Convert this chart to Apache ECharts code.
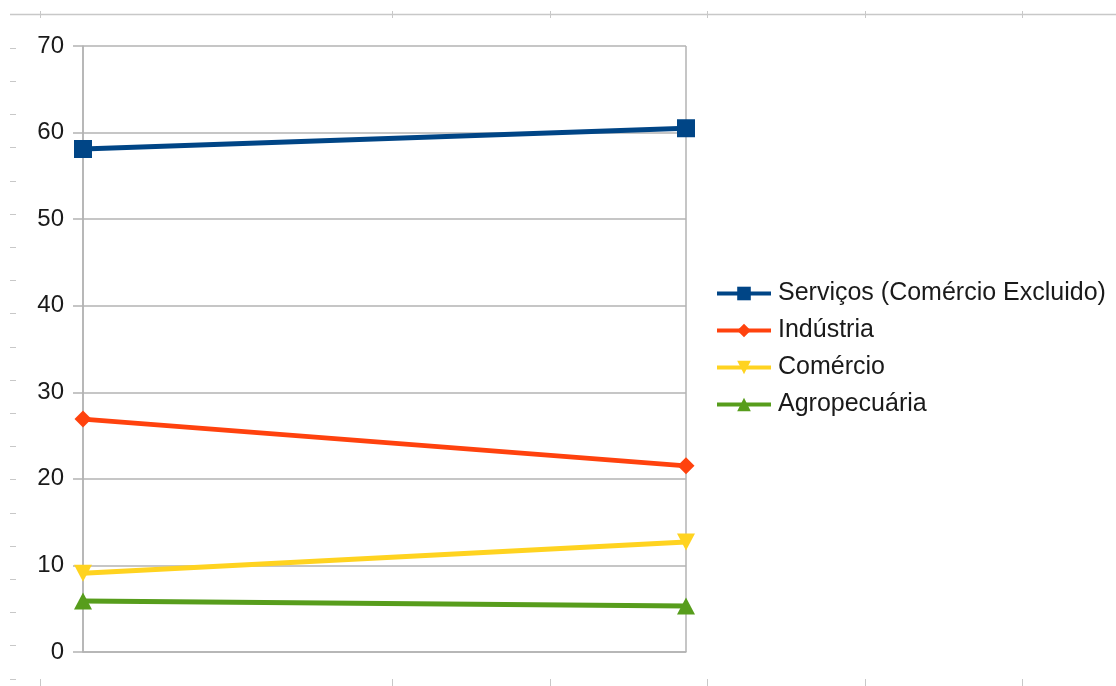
<!DOCTYPE html>
<html>
<head>
<meta charset="utf-8">
<script src="https://cdn.jsdelivr.net/npm/echarts@6/dist/echarts.min.js"></script>
<style>
html,body{margin:0;padding:0;background:#fff;}
#chart{width:1116px;height:686px;}
</style>
</head>
<body>
<div id="chart"></div>
<script>
var categories = ['1', '2'];
var servicos = [58.1, 60.5];
var industria = [26.9, 21.5];
var comercio = [9.1, 12.7];
var agropecuaria = [5.9, 5.3];
var yTicks = [0, 10, 20, 30, 40, 50, 60, 70];

// decorative ruler marks around the chart
var rulerX = [40, 392, 550, 707, 865, 1022];
var deco = [];
var rulerColor = '#c8c8c8';
deco.push({type:'line', shape:{x1:10, y1:14.5, x2:1116, y2:14.5}, style:{stroke:rulerColor, lineWidth:1.5}});
rulerX.forEach(function(x){
  deco.push({type:'line', shape:{x1:x+0.5, y1:11, x2:x+0.5, y2:18}, style:{stroke:rulerColor, lineWidth:1}});
  deco.push({type:'line', shape:{x1:x+0.5, y1:679, x2:x+0.5, y2:686}, style:{stroke:rulerColor, lineWidth:1}});
});
for (var k = 0; k < 20; k++) {
  var yy = Math.round(47.7 + 33.2 * k) + 0.5;
  deco.push({type:'line', shape:{x1:10, y1:yy, x2:16, y2:yy}, style:{stroke:rulerColor, lineWidth:1}});
}

var gridColor = '#b3b3b3';
var fontFam = 'Liberation Sans, Arial, sans-serif';
var chart = echarts.init(document.getElementById('chart'), null, {renderer:'canvas'});
chart.setOption({
  animation: false,
  backgroundColor: '#ffffff',
  textStyle: {fontFamily: fontFam},
  graphic: deco,
  grid: {left: 83, top: 46, width: 603, height: 606, containLabel: false},
  legend: {
    orient: 'vertical',
    left: 710,
    top: 276,
    itemWidth: 54,
    itemHeight: 17,
    itemGap: 12,
    lineStyle: {width: 4},
    textStyle: {fontSize: 25, color: '#1a1a1a', fontFamily: fontFam, padding: [0, 0, 0, 2]},
    data: ['Serviços (Comércio Excluido)', 'Indústria', 'Comércio', 'Agropecuária']
  },
  xAxis: {
    type: 'category',
    data: categories,
    boundaryGap: false,
    axisLine: {show: true, lineStyle: {color: gridColor, width: 1.5}},
    axisTick: {show: false},
    axisLabel: {show: false},
    splitLine: {show: true, lineStyle: {color: gridColor, width: 1.5}}
  },
  yAxis: {
    type: 'value',
    min: yTicks[0],
    max: yTicks[yTicks.length - 1],
    interval: 10,
    axisLine: {show: true, lineStyle: {color: gridColor, width: 1.5}},
    axisTick: {show: true, length: 10, lineStyle: {color: gridColor, width: 1.5}},
    axisLabel: {fontSize: 24, color: '#1a1a1a', margin: 19, fontFamily: fontFam},
    splitLine: {show: true, lineStyle: {color: gridColor, width: 1.5}}
  },
  series: [
    {name: 'Serviços (Comércio Excluido)', type: 'line', data: servicos, symbol: 'rect', symbolSize: 18,
     lineStyle: {width: 5, color: '#004586'}, itemStyle: {color: '#004586'}},
    {name: 'Indústria', type: 'line', data: industria, symbol: 'diamond', symbolSize: 17,
     lineStyle: {width: 5, color: '#ff420e'}, itemStyle: {color: '#ff420e'}},
    {name: 'Comércio', type: 'line', data: comercio, symbol: 'triangle', symbolRotate: 180, symbolSize: [18, 17],
     lineStyle: {width: 5, color: '#ffd320'}, itemStyle: {color: '#ffd320'}},
    {name: 'Agropecuária', type: 'line', data: agropecuaria, symbol: 'triangle', symbolSize: [18, 17],
     lineStyle: {width: 5, color: '#579d1c'}, itemStyle: {color: '#579d1c'}}
  ]
});
</script>
</body>
</html>
